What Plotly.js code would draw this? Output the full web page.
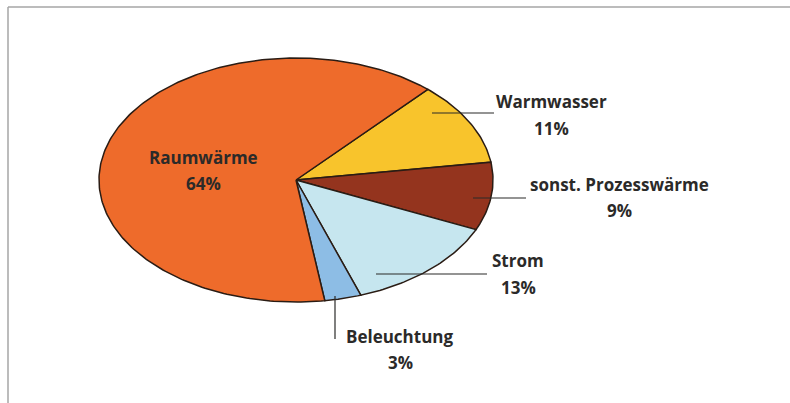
<!DOCTYPE html>
<html>
<head>
<meta charset="utf-8">
<script src="https://cdn.plot.ly/plotly-3.0.1.min.js"></script>
<style>html,body{margin:0;padding:0;background:#fff;}#chart{width:790px;height:403px;}</style>
</head>
<body>
<div id="chart"></div>
<script>
// Data (clockwise order starting from the upper-right edge)
const categories = ["Warmwasser", "sonst. Prozesswärme", "Strom", "Beleuchtung", "Raumwärme"];
const values = [11, 9, 13, 3, 64];
const colors = ["#F8C42C", "#94341E", "#C6E6EF", "#8DBDE5", "#EE6B2B"];

// Geometry of the tilted (elliptical) pie, in pixel-like axis units
const cx = 296, cy = 180, ra = 197, rb = 122;
const startDeg = 48;
const total = values.reduce((s, v) => s + v, 0);

const traces = [];
let ang = startDeg;
values.forEach((v, i) => {
  const span = v / total * 360;
  const xs = [cx], ys = [cy];
  const n = Math.max(4, Math.ceil(span));
  for (let k = 0; k <= n; k++) {
    const t = (ang - span * k / n) * Math.PI / 180;
    xs.push(cx + ra * Math.cos(t));
    ys.push(cy - rb * Math.sin(t));
  }
  xs.push(cx); ys.push(cy);
  traces.push({
    type: "scatter", mode: "lines", x: xs, y: ys, fill: "toself",
    fillcolor: colors[i], line: {color: "#2a1c14", width: 1.5},
    name: categories[i], hoverinfo: "name", showlegend: false
  });
  ang -= span;
});

const font = {family: "Open Sans, Lato, sans-serif", size: 17, color: "#2b2a29", weight: 700};
// label positions [x, y-name, y-percent] for each category
const labelPos = {
  "Warmwasser": [551, 101, 128],
  "sonst. Prozesswärme": [619, 184, 210],
  "Strom": [518, 260, 287],
  "Beleuchtung": [400, 336, 362],
  "Raumwärme": [203, 157, 183]
};
const annotations = [];
categories.forEach((c, i) => {
  const p = labelPos[c];
  annotations.push({x: p[0], y: p[1], xref: "x", yref: "y", text: c, showarrow: false,
    font: font, xanchor: "center", yanchor: "middle"});
  annotations.push({x: p[0], y: p[2], xref: "x", yref: "y", text: values[i] + "%", showarrow: false,
    font: font, xanchor: "center", yanchor: "middle"});
});

const ln = (x0, y0, x1, y1, col, w) => ({type: "line", xref: "x", yref: "y", x0, y0, x1, y1, line: {color: col, width: w}});
const shapes = [
  ln(8, 7, 790, 7, "#a6a6a6", 1.5),
  ln(8, 7, 8, 403, "#a6a6a6", 1.5),
  ln(432, 113, 494, 113, "#2b2a29", 1.2),
  ln(473, 198, 526, 198, "#2b2a29", 1.2),
  ln(376, 274, 487, 274, "#2b2a29", 1.2),
  ln(335, 296, 335, 339, "#2b2a29", 1.2)
];

const layout = {
  width: 790, height: 403,
  margin: {l: 0, r: 0, t: 0, b: 0},
  paper_bgcolor: "#ffffff", plot_bgcolor: "#ffffff",
  xaxis: {range: [0, 790], visible: false, fixedrange: true},
  yaxis: {range: [403, 0], visible: false, fixedrange: true},
  showlegend: false,
  annotations: annotations,
  shapes: shapes
};
Plotly.newPlot("chart", traces, layout, {displayModeBar: false, staticPlot: true});
</script>
</body>
</html>
